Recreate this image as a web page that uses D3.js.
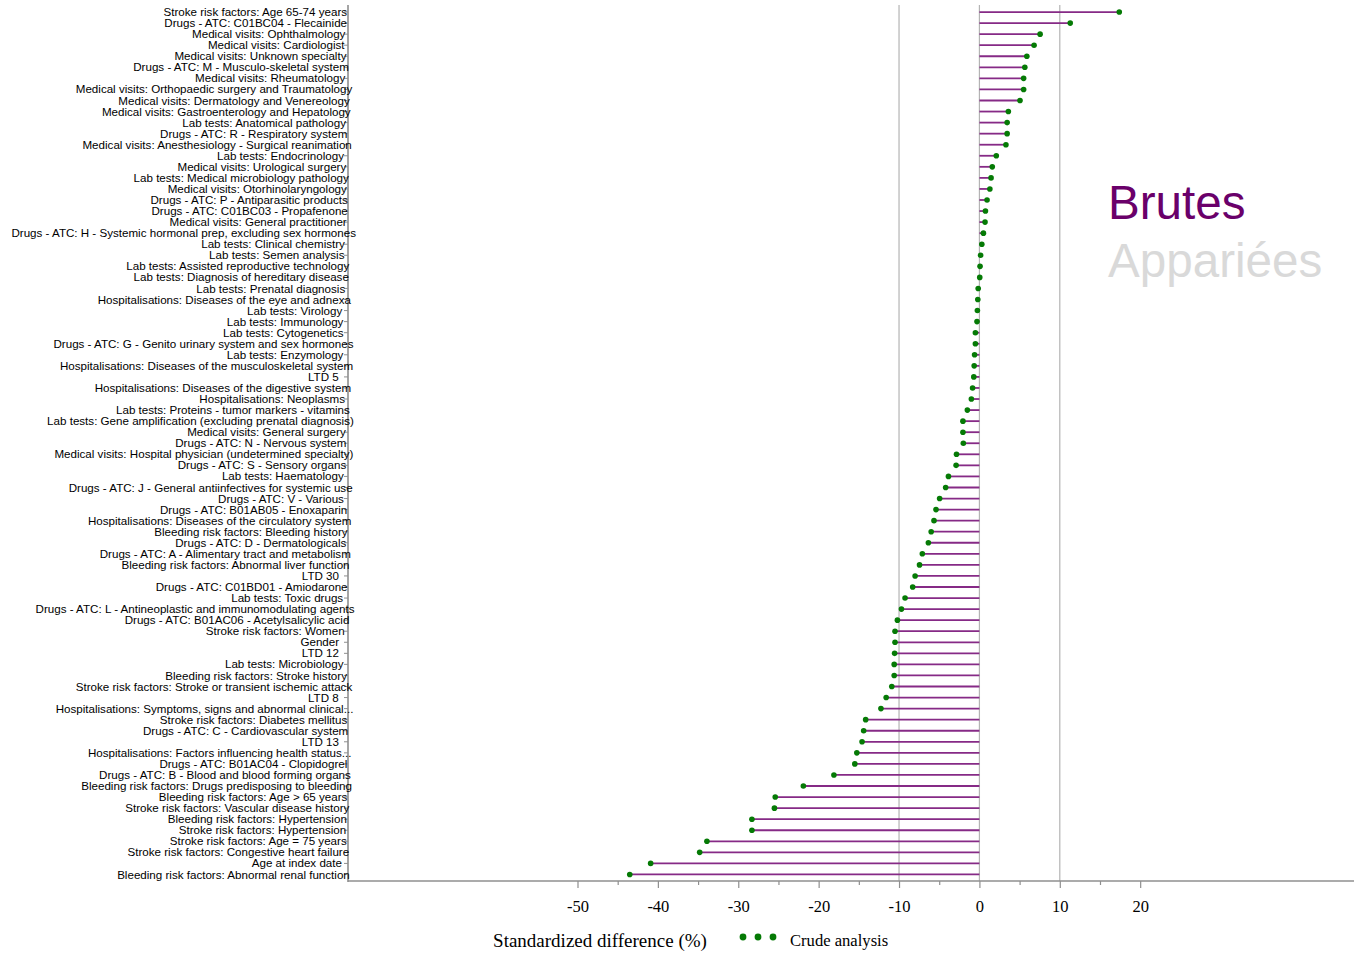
<!DOCTYPE html>
<html>
<head>
<meta charset="utf-8">
<script src="https://cdn.jsdelivr.net/npm/d3@7"></script>
<style>
  html, body { margin: 0; padding: 0; background: #fff; }
  svg { display: block; }
</style>
</head>
<body>
<svg id="chart" width="1354" height="954"></svg>
<script>
// Covariates, ordered as plotted (top to bottom)
const covariates = [
  "Stroke risk factors: Age 65-74 years",
  "Drugs - ATC: C01BC04 - Flecainide",
  "Medical visits: Ophthalmology",
  "Medical visits: Cardiologist",
  "Medical visits: Unknown specialty",
  "Drugs - ATC: M - Musculo-skeletal system",
  "Medical visits: Rheumatology",
  "Medical visits: Orthopaedic surgery and Traumatology",
  "Medical visits: Dermatology and Venereology",
  "Medical visits: Gastroenterology and Hepatology",
  "Lab tests: Anatomical pathology",
  "Drugs - ATC: R - Respiratory system",
  "Medical visits: Anesthesiology - Surgical reanimation",
  "Lab tests: Endocrinology",
  "Medical visits: Urological surgery",
  "Lab tests: Medical microbiology pathology",
  "Medical visits: Otorhinolaryngology",
  "Drugs - ATC: P - Antiparasitic products",
  "Drugs - ATC: C01BC03 - Propafenone",
  "Medical visits: General practitioner",
  "Drugs - ATC: H - Systemic hormonal prep, excluding sex hormones",
  "Lab tests: Clinical chemistry",
  "Lab tests: Semen analysis",
  "Lab tests: Assisted reproductive technology",
  "Lab tests: Diagnosis of hereditary disease",
  "Lab tests: Prenatal diagnosis",
  "Hospitalisations: Diseases of the eye and adnexa",
  "Lab tests: Virology",
  "Lab tests: Immunology",
  "Lab tests: Cytogenetics",
  "Drugs - ATC: G - Genito urinary system and sex hormones",
  "Lab tests: Enzymology",
  "Hospitalisations: Diseases of the musculoskeletal system",
  "LTD 5",
  "Hospitalisations: Diseases of the digestive system",
  "Hospitalisations: Neoplasms",
  "Lab tests: Proteins - tumor markers - vitamins",
  "Lab tests: Gene amplification (excluding prenatal diagnosis)",
  "Medical visits: General surgery",
  "Drugs - ATC: N - Nervous system",
  "Medical visits: Hospital physician (undetermined specialty)",
  "Drugs - ATC: S - Sensory organs",
  "Lab tests: Haematology",
  "Drugs - ATC: J - General antiinfectives for systemic use",
  "Drugs - ATC: V - Various",
  "Drugs - ATC: B01AB05 - Enoxaparin",
  "Hospitalisations: Diseases of the circulatory system",
  "Bleeding risk factors: Bleeding history",
  "Drugs - ATC: D - Dermatologicals",
  "Drugs - ATC: A - Alimentary tract and metabolism",
  "Bleeding risk factors: Abnormal liver function",
  "LTD 30",
  "Drugs - ATC: C01BD01 - Amiodarone",
  "Lab tests: Toxic drugs",
  "Drugs - ATC: L - Antineoplastic and immunomodulating agents",
  "Drugs - ATC: B01AC06 - Acetylsalicylic acid",
  "Stroke risk factors: Women",
  "Gender",
  "LTD 12",
  "Lab tests: Microbiology",
  "Bleeding risk factors: Stroke history",
  "Stroke risk factors: Stroke or transient ischemic attack",
  "LTD 8",
  "Hospitalisations: Symptoms, signs and abnormal clinical...",
  "Stroke risk factors: Diabetes mellitus",
  "Drugs - ATC: C - Cardiovascular system",
  "LTD 13",
  "Hospitalisations: Factors influencing health status...",
  "Drugs - ATC: B01AC04 - Clopidogrel",
  "Drugs - ATC: B - Blood and blood forming organs",
  "Bleeding risk factors: Drugs predisposing to bleeding",
  "Bleeding risk factors: Age > 65 years",
  "Stroke risk factors: Vascular disease history",
  "Bleeding risk factors: Hypertension",
  "Stroke risk factors: Hypertension",
  "Stroke risk factors: Age = 75 years",
  "Stroke risk factors: Congestive heart failure",
  "Age at index date",
  "Bleeding risk factors: Abnormal renal function"
];

// Standardized difference (%), crude analysis
const crudeDiff = [
  17.4, 11.3, 7.55, 6.8, 5.9, 5.65, 5.5, 5.5, 5.05, 3.6,
  3.45, 3.45, 3.3, 2.1, 1.6, 1.45, 1.3, 0.95, 0.75, 0.7,
  0.5, 0.3, 0.15, 0.08, 0.04, -0.15, -0.2, -0.25, -0.3, -0.5,
  -0.5, -0.6, -0.65, -0.7, -0.85, -1.0, -1.5, -2.05, -2.05, -2.0,
  -2.85, -2.9, -3.85, -4.2, -4.95, -5.4, -5.65, -6.0, -6.35, -7.1,
  -7.45, -8.0, -8.3, -9.25, -9.7, -10.2, -10.5, -10.5, -10.55, -10.6,
  -10.6, -10.9, -11.6, -12.25, -14.15, -14.4, -14.6, -15.25, -15.5, -18.1,
  -21.9, -25.4, -25.5, -28.3, -28.3, -33.9, -34.8, -40.9, -43.5
];

const xTickValues = d3.range(-50, 21, 5);
const referenceLines = [-10, 0, 10];
const axisTitle = "Standardized difference (%)";
const legendLabel = "Crude analysis";
const analysisNames = ["Brutes", "Appariées"];

const data = covariates.map((name, i) => ({ name, value: crudeDiff[i] }));

const svg = d3.select("#chart");
const plotLeft = 348, plotRight = 1354, plotTop = 6.5, plotBottom = 880;

const x = d3.scaleLinear().domain([-78.55, 46.6]).range([plotLeft, plotRight]);
const y = d3.scalePoint().domain(covariates).range([plotTop, plotBottom]).padding(0.5);

const stemColor = "#862a86";
const dotColor = "#057a05";

// Threshold reference lines
svg.append("g").selectAll("line").data(referenceLines).join("line")
  .attr("x1", d => x(d)).attr("x2", d => x(d))
  .attr("y1", 5).attr("y2", 881)
  .attr("stroke", "#b4b4b4").attr("stroke-width", 1.2);

// Stems
svg.append("g").selectAll("line").data(data).join("line")
  .attr("x1", x(0)).attr("x2", d => x(d.value))
  .attr("y1", d => y(d.name)).attr("y2", d => y(d.name))
  .attr("stroke", stemColor).attr("stroke-width", 1.8);

// Dots
svg.append("g").selectAll("circle").data(data).join("circle")
  .attr("cx", d => x(d.value)).attr("cy", d => y(d.name))
  .attr("r", 2.8).attr("fill", dotColor);

// X axis
const xAxis = d3.axisBottom(x).tickValues(xTickValues)
  .tickSize(0).tickFormat(d => (d % 10 === 0 ? d : ""));
const gx = svg.append("g").attr("transform", "translate(0,881)").call(xAxis);
gx.select(".domain").remove();
gx.append("line").attr("x1", plotLeft).attr("x2", plotRight).attr("y1", 0).attr("y2", 0)
  .attr("stroke", "#8f8f8f").attr("stroke-width", 1.6);
gx.selectAll(".tick").append("line")
  .attr("y1", 0).attr("y2", d => (d % 10 === 0 ? 7 : 4))
  .attr("stroke", "#8f8f8f").attr("stroke-width", 1.2);
gx.selectAll(".tick text")
  .attr("y", 31).attr("dy", 0)
  .attr("font-family", "'Liberation Serif', 'Times New Roman', serif")
  .attr("font-size", 16.5).attr("fill", "#000");

// Y axis
const gy = svg.append("g");
gy.append("line").attr("x1", plotLeft).attr("x2", plotLeft).attr("y1", 5).attr("y2", 882)
  .attr("stroke", "#8f8f8f").attr("stroke-width", 1.6);
gy.selectAll("line.tk").data(covariates).join("line").attr("class", "tk")
  .attr("x1", plotLeft - 4).attr("x2", plotLeft)
  .attr("y1", d => y(d)).attr("y2", d => y(d))
  .attr("stroke", "#8f8f8f").attr("stroke-width", 1);
const labels = gy.selectAll("text").data(covariates).join("text")
  .attr("y", d => y(d)).attr("dy", "0.35em")
  .attr("font-family", "'Liberation Sans', Arial, sans-serif")
  .attr("font-size", 11.6).attr("fill", "#000")
  .text(d => d);
// Labels laid out from an estimated width, so long labels run slightly past the axis
labels.attr("x", function () {
  const w = this.getComputedTextLength();
  return 337 - 0.945 * w;
});

// Axis title and legend
svg.append("text").attr("x", 600).attr("y", 947).attr("text-anchor", "middle")
  .attr("font-family", "'Liberation Serif', 'Times New Roman', serif")
  .attr("font-size", 19).attr("fill", "#000").text(axisTitle);
svg.append("g").selectAll("circle").data([0, 1, 2]).join("circle")
  .attr("cx", d => 743 + d * 15).attr("cy", 937).attr("r", 3.4).attr("fill", dotColor);
svg.append("text").attr("x", 790).attr("y", 946)
  .attr("font-family", "'Liberation Serif', 'Times New Roman', serif")
  .attr("font-size", 16.6).attr("fill", "#000").text(legendLabel);

// Analysis selector labels
svg.append("g").selectAll("text").data(analysisNames).join("text")
  .attr("x", 1108).attr("y", (d, i) => 219 + i * 58)
  .attr("font-family", "'Liberation Sans', Arial, sans-serif")
  .attr("font-size", 47.6)
  .attr("fill", (d, i) => (i === 0 ? "#6a006a" : "#d9d9d9"))
  .text(d => d);
</script>
</body>
</html>
